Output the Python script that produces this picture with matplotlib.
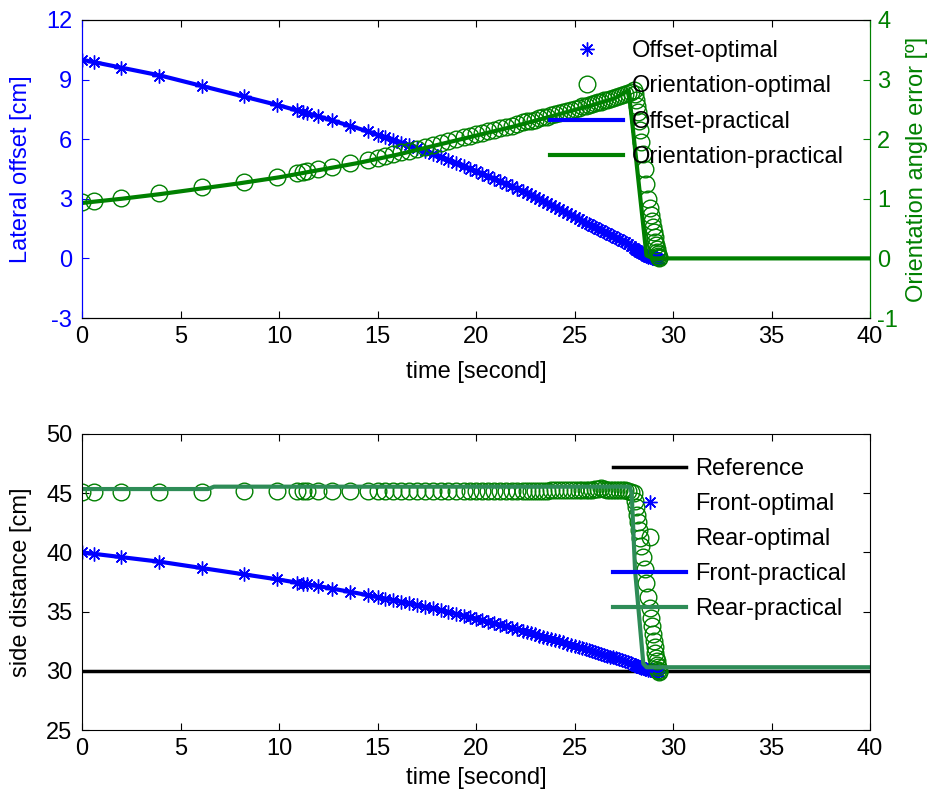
import matplotlib
matplotlib.use("Agg")
import matplotlib.pyplot as plt
from matplotlib.lines import Line2D

plt.rcParams['font.family'] = ['Liberation Sans', 'DejaVu Sans']
plt.rcParams['axes.unicode_minus'] = False

# ---------------- data ----------------
# sample times of the optimal solution
t_opt = [0, 0.6, 2.0, 3.9, 6.1, 8.2, 9.9, 10.9, 11.2, 11.4, 12.0, 12.7, 13.6, 14.5,
         15.0, 15.4, 15.8, 16.2, 16.6, 17.0, 17.4, 17.8, 18.2, 18.6, 19.0, 19.4, 19.7,
         20.0, 20.3, 20.6, 20.9, 21.2, 21.5, 21.8, 22.1, 22.4, 22.6, 22.8, 23.0, 23.2,
         23.4, 23.6, 23.8, 24.0, 24.2, 24.4, 24.6, 24.8, 25.0, 25.2, 25.4, 25.6, 25.75,
         25.9, 26.05, 26.2, 26.35, 26.5, 26.65, 26.8, 26.95, 27.1, 27.25, 27.4, 27.55,
         27.7, 27.85, 28.0,
         28.05, 28.1, 28.15, 28.2, 28.25, 28.3, 28.38, 28.46, 28.55, 28.65, 28.75, 28.82,
         28.88, 28.93, 28.98, 29.02, 29.06, 29.1, 29.13, 29.16, 29.19, 29.22, 29.25,
         29.28, 29.3]

offset_opt = [10.0, 9.9, 9.6, 9.2, 8.7, 8.15, 7.72, 7.45, 7.37, 7.32, 7.15, 6.95, 6.67,
              6.39, 6.22, 6.09, 5.97, 5.83, 5.69, 5.55, 5.41, 5.27, 5.12, 4.97, 4.81,
              4.65, 4.52, 4.40, 4.27, 4.14, 4.02, 3.89, 3.76, 3.64, 3.51, 3.37, 3.28,
              3.19, 3.08, 2.98, 2.89, 2.79, 2.70, 2.60, 2.50, 2.40, 2.30, 2.20, 2.10,
              2.00, 1.90, 1.80, 1.73, 1.65, 1.58, 1.50, 1.43, 1.35, 1.28, 1.20, 1.13,
              1.05, 0.98, 0.90, 0.81, 0.72, 0.62, 0.52,
              0.48, 0.44, 0.40, 0.37, 0.33, 0.30, 0.26, 0.22, 0.17, 0.13, 0.09, 0.07,
              0.05, 0.04, 0.03, 0.02, 0.01, 0.0, 0.0, 0.0, -0.02, -0.03, -0.04, -0.05,
              -0.05]

orient_opt = [0.95, 0.97, 1.02, 1.09, 1.19, 1.29, 1.37, 1.43, 1.45, 1.46, 1.50, 1.54,
              1.60, 1.65, 1.69, 1.72, 1.75, 1.78, 1.81, 1.84, 1.87, 1.90, 1.94, 1.97,
              2.00, 2.03, 2.05, 2.08, 2.10, 2.13, 2.15, 2.18, 2.20, 2.22, 2.25, 2.28,
              2.30, 2.31, 2.33, 2.35, 2.37, 2.38, 2.40, 2.42, 2.44, 2.46, 2.47, 2.49,
              2.51, 2.53, 2.55, 2.56, 2.58, 2.59, 2.60, 2.62, 2.63, 2.65, 2.66, 2.68,
              2.69, 2.71, 2.72, 2.74, 2.76, 2.78, 2.80, 2.82,
              2.75, 2.65, 2.55, 2.45, 2.30, 2.15, 1.95, 1.75, 1.50, 1.25, 1.00, 0.85,
              0.72, 0.62, 0.52, 0.44, 0.36, 0.28, 0.22, 0.16, 0.11, 0.07, 0.04, 0.02,
              0.0]

front_opt = [40.0, 39.9, 39.6, 39.2, 38.7, 38.15, 37.72, 37.45, 37.37, 37.32, 37.15,
             36.95, 36.67, 36.39, 36.22, 36.09, 35.97, 35.83, 35.69, 35.55, 35.41,
             35.27, 35.12, 34.97, 34.81, 34.65, 34.52, 34.40, 34.27, 34.14, 34.02,
             33.89, 33.76, 33.64, 33.51, 33.37, 33.28, 33.19, 33.08, 32.98, 32.89,
             32.79, 32.70, 32.60, 32.50, 32.40, 32.30, 32.20, 32.10, 32.00, 31.90,
             31.80, 31.73, 31.65, 31.58, 31.50, 31.43, 31.35, 31.28, 31.20, 31.13,
             31.05, 30.98, 30.90, 30.81, 30.72, 30.62, 30.52,
             30.48, 30.44, 30.40, 30.37, 30.33, 30.30, 30.26, 30.22, 30.17, 30.13,
             30.09, 30.07, 30.05, 30.04, 30.03, 30.02, 30.01, 30.0, 29.98, 29.96,
             29.94, 29.92, 29.9, 29.88, 29.86]

rear_opt = [45.1, 45.1, 45.1, 45.1, 45.1, 45.15, 45.15, 45.15, 45.15, 45.15, 45.15,
            45.15, 45.15, 45.15, 45.15, 45.15, 45.15, 45.15, 45.15, 45.2, 45.2, 45.2,
            45.2, 45.2, 45.2, 45.2, 45.2, 45.2, 45.2, 45.2, 45.2, 45.2, 45.2, 45.2,
            45.2, 45.2, 45.2, 45.2, 45.2, 45.2, 45.2, 45.2, 45.25, 45.25, 45.25, 45.25,
            45.25, 45.25, 45.25, 45.25, 45.25, 45.3, 45.3, 45.3, 45.35, 45.35, 45.4,
            45.35, 45.3, 45.3, 45.3, 45.3, 45.3, 45.3, 45.25, 45.2, 45.1, 45.0,
            44.3, 43.8, 43.2, 42.6, 41.9, 41.2, 40.5, 39.6, 38.6, 37.4, 36.2, 35.3,
            34.5, 33.8, 33.1, 32.5, 32.0, 31.5, 31.1, 30.8, 30.5, 30.3, 30.1, 30.0,
            29.9]

# practical (measured) trajectories
t_off_prac = [0, 2, 4, 6, 8, 10, 12, 14, 16, 18, 20, 22, 24, 26, 27, 28, 28.5, 28.9]
offset_prac = [10.0, 9.6, 9.2, 8.7, 8.2, 7.7, 7.15, 6.55, 5.9, 5.2, 4.4, 3.55, 2.6,
               1.6, 1.1, 0.5, 0.2, 0.0]

t_ori_prac = [0, 2, 4, 6, 8, 10, 12, 14, 16, 18, 20, 22, 24, 26, 27, 27.75, 28.65,
              29.0, 40]
orient_prac = [0.93, 1.0, 1.08, 1.17, 1.26, 1.36, 1.48, 1.6, 1.74, 1.9, 2.06, 2.22,
               2.4, 2.58, 2.68, 2.82, 0.05, 0.0, 0.0]

t_front_prac = [0, 2, 4, 6, 8, 10, 12, 14, 16, 18, 20, 22, 24, 26, 27, 28, 28.5, 28.9]
front_prac = [40.0, 39.6, 39.2, 38.7, 38.2, 37.7, 37.15, 36.55, 35.9, 35.2, 34.4,
              33.55, 32.6, 31.6, 31.1, 30.5, 30.2, 30.0]

t_rear_prac = [0, 6.4, 6.7, 27.8, 27.9, 28.07, 28.49, 28.66, 40]
rear_prac = [45.35, 45.35, 45.55, 45.55, 45.0, 38.5, 30.6, 30.3, 30.3]

t_ref = [0, 40]
ref = [30, 30]

xticks = [0, 5, 10, 15, 20, 25, 30, 35, 40]
yticks_off = [-3, 0, 3, 6, 9, 12]
yticks_ori = [-1, 0, 1, 2, 3, 4]
yticks_side = [25, 30, 35, 40, 45, 50]

# ---------------- styles ----------------
FS = 17
BLUE = (0, 0, 1)
GREEN = (0, 0.5, 0)
SEAGREEN = (0.18, 0.55, 0.34)
AST = (8, 2, 0)

fig = plt.figure(figsize=(9.36, 7.96), dpi=100)

# ======================= top panel =======================
ax = fig.add_axes([0.0876, 0.6005, 0.842, 0.3744])
ax2 = ax.twinx()

ax.plot(t_opt, offset_opt, linestyle='none', marker=AST, markersize=10,
        markeredgewidth=1.0, color=BLUE)
ax.plot(t_off_prac, offset_prac, '-', color=BLUE, linewidth=3)
ax2.plot(t_opt, orient_opt, linestyle='none', marker='o', markersize=12,
         markerfacecolor='none', markeredgewidth=1.0, markeredgecolor=GREEN)
ax2.plot(t_ori_prac, orient_prac, '-', color=GREEN, linewidth=3)

ax.set_xlim(0, 40)
ax.set_ylim(-3, 12)
ax2.set_ylim(-1, 4)
ax.set_xticks(xticks)
ax.set_yticks(yticks_off)
ax2.set_yticks(yticks_ori)

ax.tick_params(axis='x', direction='in', top=True, length=5, labelsize=FS,
               colors='black', pad=6)
ax.tick_params(axis='y', direction='in', length=5, labelsize=FS, colors=BLUE,
               pad=7)
ax2.tick_params(axis='y', direction='in', length=5, labelsize=FS, colors=GREEN,
                pad=5)

for a in (ax, ax2):
    a.spines['top'].set_color('black')
    a.spines['bottom'].set_color('black')
    a.spines['left'].set_color(BLUE)
    a.spines['right'].set_color(GREEN)

ax.set_xlabel('time [second]', fontsize=FS, labelpad=9)
ax.set_ylabel('Lateral offset [cm]', fontsize=FS, color=BLUE, labelpad=10)
ax2.set_ylabel('Orientation angle error [º]', fontsize=FS, color=GREEN,
               labelpad=6)

h_top = [
    Line2D([], [], linestyle='none', marker=AST, markersize=10,
           markeredgewidth=1.0, color=BLUE),
    Line2D([], [], linestyle='none', marker='o', markersize=12,
           markerfacecolor='none', markeredgewidth=1.0, markeredgecolor=GREEN),
    Line2D([], [], color=BLUE, linewidth=3),
    Line2D([], [], color=GREEN, linewidth=3),
]
ax2.legend(h_top, ['Offset-optimal', 'Orientation-optimal', 'Offset-practical',
                   'Orientation-practical'],
           loc='upper left', bbox_to_anchor=(550 / 936, 1 - 40 / 796),
           bbox_transform=fig.transFigure, frameon=False, fontsize=FS,
           handlelength=3.1, handletextpad=0.38, labelspacing=0.57,
           borderpad=0, borderaxespad=0)

# ======================= bottom panel =======================
bx = fig.add_axes([0.0876, 0.0829, 0.842, 0.3719])

bx.plot(t_ref, ref, '-', color='black', linewidth=2.5)
bx.plot(t_opt, front_opt, linestyle='none', marker=AST, markersize=10,
        markeredgewidth=1.0, color=BLUE)
bx.plot(t_opt, rear_opt, linestyle='none', marker='o', markersize=12,
        markerfacecolor='none', markeredgewidth=1.0, markeredgecolor=GREEN)
bx.plot(t_front_prac, front_prac, '-', color=BLUE, linewidth=3)
bx.plot(t_rear_prac, rear_prac, '-', color=SEAGREEN, linewidth=3)

bx.set_xlim(0, 40)
bx.set_ylim(25, 50)
bx.set_xticks(xticks)
bx.set_yticks(yticks_side)
bx.tick_params(axis='x', direction='in', top=True, length=5, labelsize=FS, pad=6)
bx.tick_params(axis='y', direction='in', right=True, length=5, labelsize=FS,
               pad=7)
bx.set_xlabel('time [second]', fontsize=FS, labelpad=5)
bx.set_ylabel('side distance [cm]', fontsize=FS, labelpad=10)

bx.legend(['Reference', 'Front-optimal', 'Rear-optimal', 'Front-practical',
           'Rear-practical'],
          loc='upper left', bbox_to_anchor=(613 / 936, 1 - 458 / 796),
          bbox_transform=fig.transFigure, frameon=False, fontsize=FS,
          handlelength=3.1, handletextpad=0.38, labelspacing=0.55,
          borderpad=0, borderaxespad=0)

fig.savefig('out.png', dpi=100)
